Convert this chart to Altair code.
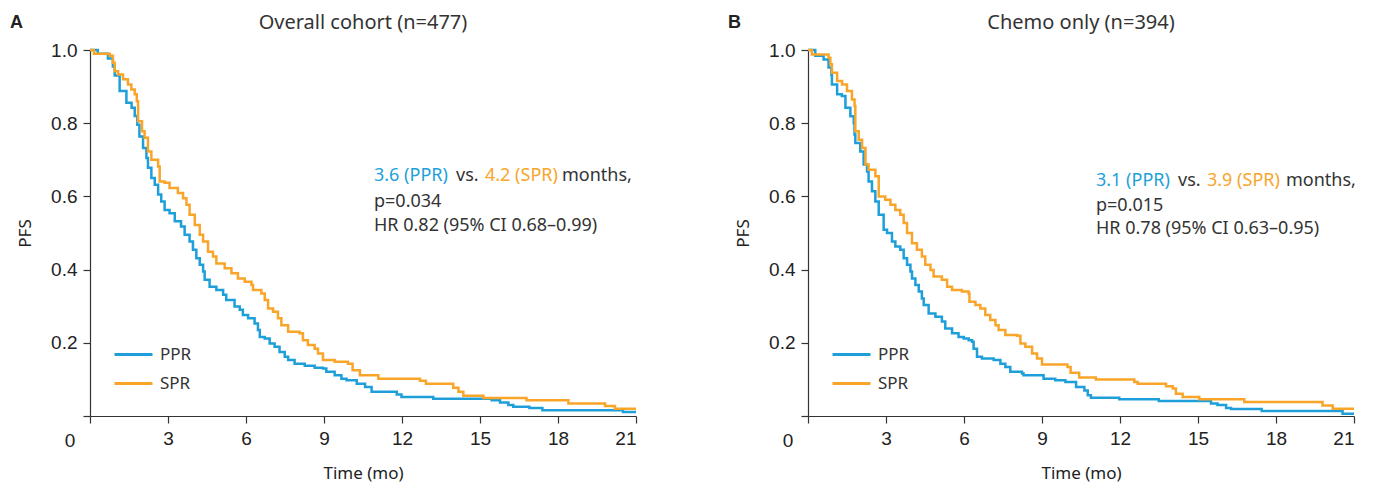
import altair as alt
import pandas as pd

BLUE = "#1E9FDA"
ORANGE = "#F8A52A"
TEXT = "#333333"
SANS = "Noto Sans"
AXF = "Liberation Sans"

GROUPS = ["PPR", "SPR"]
X_TICKS = [0, 3, 6, 9, 12, 15, 18, 21]
Y_TICKS = [0, 0.2, 0.4, 0.6, 0.8, 1.0]

# Panel A: Overall cohort (time in months, PFS)
A_PPR = [(0, 1.0), (0.3, 0.99), (0.69, 0.977), (0.88, 0.955), (0.95, 0.93), (1.14, 0.888),
         (1.4, 0.856), (1.6, 0.842), (1.72, 0.82), (1.82, 0.796), (1.9, 0.764), (2.04, 0.732),
         (2.17, 0.705), (2.23, 0.678), (2.36, 0.65), (2.49, 0.632), (2.62, 0.605), (2.74, 0.586),
         (2.87, 0.563), (3.06, 0.554), (3.26, 0.532), (3.5, 0.518), (3.64, 0.495), (3.83, 0.477),
         (3.96, 0.454), (4.09, 0.431), (4.22, 0.413), (4.35, 0.395), (4.41, 0.372), (4.6, 0.353),
         (4.86, 0.344), (5.12, 0.331), (5.24, 0.317), (5.56, 0.299), (5.76, 0.29), (5.88, 0.276),
         (6.08, 0.267), (6.33, 0.253), (6.46, 0.235), (6.53, 0.216), (6.72, 0.212), (6.91, 0.198),
         (7.1, 0.189), (7.29, 0.175), (7.49, 0.162), (7.62, 0.153), (7.87, 0.143), (8.26, 0.137),
         (8.64, 0.132), (8.96, 0.13), (9.09, 0.121), (9.41, 0.111), (9.67, 0.102), (9.87, 0.098),
         (10.26, 0.088), (10.58, 0.079), (10.83, 0.066), (11.8, 0.059), (11.98, 0.052), (13.2, 0.047),
         (15.45, 0.043), (15.77, 0.037), (16.09, 0.03), (16.28, 0.025), (16.9, 0.022), (17.4, 0.016),
         (20.5, 0.011), (21, 0.011)]
A_SPR = [(0, 1.0), (0.15, 0.99), (0.76, 0.984), (0.88, 0.965), (0.95, 0.942), (1.08, 0.933),
         (1.27, 0.92), (1.46, 0.906), (1.59, 0.892), (1.72, 0.879), (1.8, 0.86), (1.85, 0.805),
         (2.0, 0.778), (2.1, 0.76), (2.23, 0.723), (2.36, 0.70), (2.62, 0.682), (2.68, 0.641),
         (2.87, 0.637), (3.06, 0.623), (3.38, 0.609), (3.58, 0.595), (3.71, 0.577), (3.83, 0.55),
         (4.03, 0.522), (4.22, 0.495), (4.35, 0.477), (4.54, 0.449), (4.73, 0.436), (4.86, 0.417),
         (5.18, 0.404), (5.44, 0.39), (5.69, 0.376), (5.95, 0.367), (6.21, 0.358), (6.27, 0.344),
         (6.59, 0.335), (6.72, 0.317), (6.85, 0.294), (7.04, 0.285), (7.23, 0.267), (7.36, 0.248),
         (7.62, 0.23), (8.06, 0.226), (8.19, 0.207), (8.38, 0.194), (8.64, 0.184), (8.77, 0.171),
         (8.96, 0.153), (9.41, 0.148), (9.92, 0.143), (10.1, 0.125), (10.38, 0.111), (11.09, 0.102),
         (12.69, 0.096), (12.92, 0.088), (13.97, 0.077), (14.17, 0.066), (14.36, 0.055), (15.13, 0.049),
         (16.79, 0.043), (18.4, 0.034), (19.81, 0.027), (20.19, 0.020), (21, 0.020)]

# Panel B: Chemo only
B_PPR = [(0, 1.0), (0.28, 0.984), (0.6, 0.974), (0.79, 0.952), (0.9, 0.932), (0.92, 0.906),
         (1.12, 0.879), (1.3, 0.874), (1.44, 0.842), (1.63, 0.819), (1.76, 0.80), (1.79, 0.769),
         (1.82, 0.746), (2.01, 0.723), (2.14, 0.687), (2.27, 0.668), (2.33, 0.641), (2.46, 0.614),
         (2.59, 0.586), (2.72, 0.55), (2.91, 0.509), (3.04, 0.5), (3.23, 0.477), (3.36, 0.463),
         (3.55, 0.454), (3.68, 0.431), (3.81, 0.413), (3.94, 0.395), (4.0, 0.376), (4.13, 0.358),
         (4.26, 0.34), (4.38, 0.321), (4.45, 0.303), (4.64, 0.28), (4.9, 0.271), (5.15, 0.258),
         (5.28, 0.239), (5.54, 0.226), (5.79, 0.216), (5.99, 0.212), (6.18, 0.207), (6.31, 0.203),
         (6.37, 0.184), (6.5, 0.162), (6.69, 0.157), (7.14, 0.153), (7.4, 0.143), (7.59, 0.134),
         (7.78, 0.121), (8.23, 0.116), (8.29, 0.111), (9.06, 0.102), (9.51, 0.098), (9.9, 0.093),
         (10.31, 0.079), (10.63, 0.07), (10.76, 0.057), (10.88, 0.05), (11.97, 0.046), (13.49, 0.041),
         (15.5, 0.034), (15.75, 0.03), (16.08, 0.022), (16.27, 0.019), (17.45, 0.014), (20.56, 0.006),
         (21, 0.006)]
B_SPR = [(0, 1.0), (0.15, 0.988), (0.79, 0.979), (0.86, 0.961), (0.92, 0.938), (1.12, 0.915),
         (1.31, 0.906), (1.5, 0.888), (1.69, 0.865), (1.79, 0.847), (1.82, 0.778), (1.95, 0.755),
         (2.08, 0.732), (2.21, 0.687), (2.33, 0.673), (2.59, 0.655), (2.72, 0.60), (2.97, 0.591),
         (3.17, 0.577), (3.36, 0.563), (3.55, 0.55), (3.68, 0.527), (3.81, 0.5), (4.0, 0.472),
         (4.19, 0.454), (4.38, 0.436), (4.51, 0.413), (4.71, 0.399), (4.83, 0.381), (5.15, 0.372),
         (5.35, 0.353), (5.54, 0.344), (5.92, 0.34), (6.18, 0.335), (6.21, 0.312), (6.44, 0.303),
         (6.63, 0.294), (6.82, 0.276), (7.01, 0.262), (7.21, 0.248), (7.33, 0.235), (7.59, 0.221),
         (8.04, 0.219), (8.17, 0.198), (8.36, 0.189), (8.62, 0.171), (8.81, 0.157), (9.0, 0.141),
         (9.98, 0.134), (10.1, 0.118), (10.43, 0.105), (11.07, 0.10), (12.55, 0.093), (12.68, 0.088),
         (13.77, 0.081), (14.03, 0.075), (14.15, 0.061), (14.41, 0.052), (15.05, 0.046), (16.78, 0.038),
         (19.79, 0.029), (20.18, 0.020), (21, 0.020)]

A_TITLE = "Overall cohort (n=477)"
B_TITLE = "Chemo only (n=394)"
A_ANN = ["3.6 (PPR)", "vs.", "4.2 (SPR)", "months,", "p=0.034", "HR 0.82 (95% CI 0.68\u20130.99)"]
B_ANN = ["3.1 (PPR)", "vs.", "3.9 (SPR)", "months,", "p=0.015", "HR 0.78 (95% CI 0.63\u20130.95)"]

W, H = 546, 366


def txt(s, x, y, color=TEXT, size=18, font=SANS, weight="normal", align="left"):
    return alt.Chart(pd.DataFrame({"label": [s]})).mark_text(
        align=align, baseline="middle", fontSize=size, font=font, color=color, fontWeight=weight
    ).encode(x=alt.value(x), y=alt.value(y), text="label:N")


def panel(ppr, spr, title, letter, ann, xs, ys):
    rows = [{"t": t, "s": s, "group": "PPR"} for t, s in ppr] + \
           [{"t": t, "s": s, "group": "SPR"} for t, s in spr]
    df = pd.DataFrame(rows)
    x = alt.X("t:Q", scale=alt.Scale(domain=[0, 21], nice=False, zero=True),
              axis=alt.Axis(values=X_TICKS, labelExpr="datum.value == 0 ? '' : datum.label",
                            title="Time (mo)", labelPadding=6, titlePadding=17))
    y = alt.Y("s:Q", scale=alt.Scale(domain=[0, 1], nice=False),
              axis=alt.Axis(values=Y_TICKS,
                            labelExpr="datum.value == 0 ? '' : format(datum.value, '.1f')",
                            title="PFS", labelPadding=6, titlePadding=16))
    lines = alt.Chart(df).mark_line(interpolate="step-after", strokeWidth=2.5).encode(
        x=x, y=y,
        color=alt.Color("group:N", scale=alt.Scale(domain=GROUPS, range=[BLUE, ORANGE]),
                        legend=alt.Legend(title=None, orient="none", legendX=23, legendY=284,
                                          symbolType="stroke", symbolSize=1444, symbolStrokeWidth=3,
                                          labelFontSize=17, labelFont=SANS, labelColor=TEXT,
                                          labelOffset=6, rowPadding=0, padding=0)),
        order=alt.Order("group:N"),
    )
    origin = alt.Chart(pd.DataFrame({"t": [0], "s": [0], "label": ["0"]})).mark_text(
        dx=-20, dy=25, fontSize=19, font=AXF, color="#222"
    ).encode(x="t:Q", y="s:Q", text="label:N")
    layers = [lines, origin,
              txt(title, W / 2, -27, size=20, align="center"),
              txt(letter, -80, -27, color="#222", size=18, font=AXF, weight="bold"),
              txt(ann[0], xs[0], ys[0], color=BLUE),
              txt(ann[1], xs[1], ys[0]),
              txt(ann[2], xs[2], ys[0], color=ORANGE),
              txt(ann[3], xs[3], ys[0]),
              txt(ann[4], xs[0], ys[1]),
              txt(ann[5], xs[0], ys[2])]
    return alt.layer(*layers).properties(width=W, height=H).resolve_scale(color="independent")


pa = panel(A_PPR, A_SPR, A_TITLE, "A", A_ANN, [284, 366, 395, 472], [126, 152, 176])
pb = panel(B_PPR, B_SPR, B_TITLE, "B", B_ANN, [288, 370, 399, 478], [131, 156, 179])

chart = alt.hconcat(pa, pb, spacing=87).resolve_scale(color="independent").resolve_legend(
    color="independent"
).properties(padding={"left": 2, "top": 5, "right": 0, "bottom": 4}).configure_view(
    stroke=None
).configure_axis(
    grid=False, domainColor="#333", tickColor="#333", tickSize=7, labelColor="#222",
    labelFont=AXF, labelFontSize=19, titleFont=SANS, titleFontSize=17, titleColor="#222",
    titleFontWeight="normal", domainWidth=1.2, tickWidth=1.2
)

chart.save("out.html", embed_options={"renderer": "svg", "actions": False})
